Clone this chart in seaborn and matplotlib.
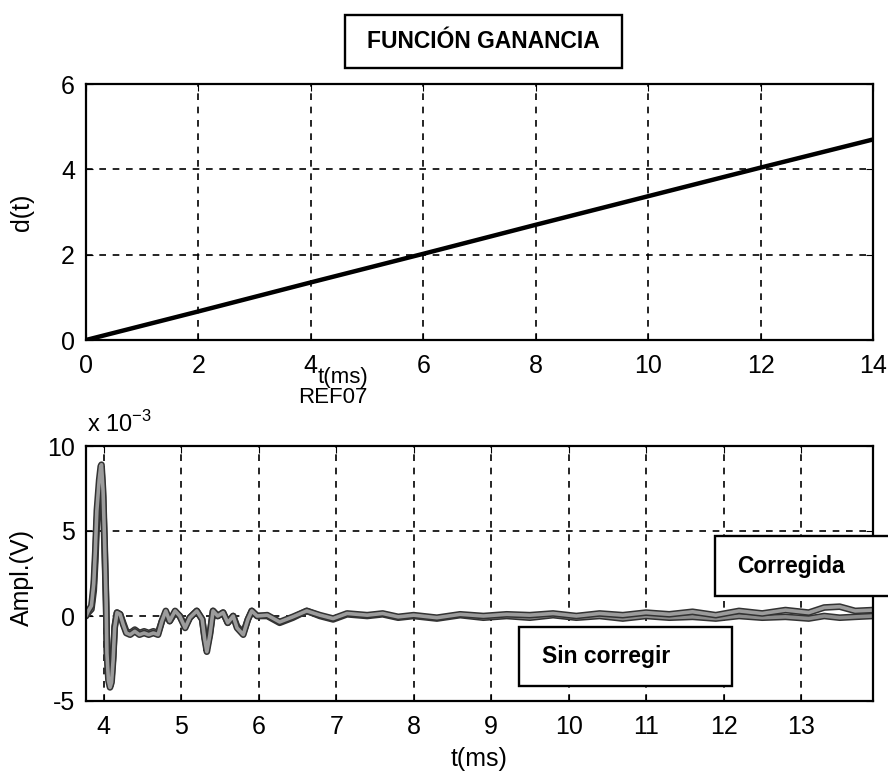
import matplotlib
matplotlib.use("Agg")
import matplotlib.pyplot as plt
import matplotlib.patheffects as pe
from matplotlib.patches import Rectangle
import seaborn as sns
import pandas as pd

# ---------------- data ----------------
t_gain = [0, 2, 4, 6, 8, 10, 12, 14]
d_gain = [0.0, 0.67, 1.35, 2.02, 2.70, 3.37, 4.04, 4.70]

t_sig = [3.77, 3.80, 3.84, 3.87, 3.89, 3.91, 3.94, 3.96, 3.97, 3.99, 4.01, 4.03,
         4.04, 4.06, 4.08, 4.10, 4.12, 4.14, 4.17, 4.21, 4.25, 4.29, 4.34, 4.40,
         4.46, 4.52, 4.58, 4.64, 4.70, 4.75, 4.80, 4.85, 4.92, 4.98, 5.05, 5.11,
         5.20, 5.27, 5.30, 5.33, 5.37, 5.41, 5.47, 5.54, 5.60, 5.67, 5.72, 5.80,
         5.86, 5.91, 5.98, 6.11, 6.27, 6.44, 6.62, 6.79, 6.96, 7.14, 7.40, 7.60,
         7.80, 8.00, 8.30, 8.60, 8.90, 9.20, 9.50, 9.80, 10.10, 10.40, 10.70,
         11.00, 11.30, 11.60, 11.90, 12.20, 12.50, 12.80, 13.10, 13.30, 13.50,
         13.70, 13.93]
sin_corregir = [0.0, 0.2, 0.4, 1.5, 3.2, 5.5, 7.4, 8.4, 8.6, 7.0, 4.0, 0.5,
                -2.0, -3.5, -3.9, -3.6, -2.4, -0.6, 0.2, 0.1, -0.4, -0.9, -1.0, -0.8,
                -1.0, -0.9, -1.0, -0.9, -1.0, -0.3, 0.2, -0.3, 0.2, 0.0, -0.6, -0.1,
                0.3, -0.2, -1.2, -1.9, -1.0, 0.3, 0.0, 0.2, -0.4, 0.0, -0.6, -1.0,
                -0.2, 0.3, 0.0, 0.0, -0.4, -0.1, 0.3, 0.0, -0.2, 0.1, 0.0, 0.1,
                -0.1, 0.0, -0.15, 0.05, -0.1, 0.0, -0.1, 0.05, -0.1, 0.0, -0.15,
                0.0, -0.1, -0.05, -0.15, 0.0, -0.1, -0.05, -0.15, 0.0, -0.1,
                -0.05, 0.0]
corregida = [0.0, 0.3, 0.6, 1.9, 3.8, 6.2, 8.0, 8.8, 8.9, 7.4, 4.4, 0.8,
             -2.2, -3.8, -4.2, -3.9, -2.6, -0.7, 0.2, 0.1, -0.5, -1.0, -1.1, -0.9,
             -1.1, -1.0, -1.1, -1.0, -1.1, -0.3, 0.3, -0.3, 0.3, 0.0, -0.7, -0.1,
             0.3, -0.2, -1.3, -2.1, -1.1, 0.3, 0.0, 0.2, -0.4, 0.0, -0.7, -1.1,
             -0.2, 0.3, 0.0, 0.05, -0.35, -0.05, 0.3, 0.05, -0.15, 0.15, 0.05, 0.15,
             -0.05, 0.05, -0.1, 0.1, 0.0, 0.1, 0.05, 0.15, 0.0, 0.15, 0.05,
             0.2, 0.1, 0.25, 0.05, 0.3, 0.15, 0.35, 0.2, 0.5, 0.55,
             0.3, 0.35]

# ---------------- style ----------------
sns.set_style("ticks")
FONT = ["Liberation Sans Narrow", "Liberation Sans", "DejaVu Sans"]
plt.rcParams["font.family"] = FONT
plt.rcParams["axes.edgecolor"] = "black"
plt.rcParams["axes.linewidth"] = 1.6
plt.rcParams["axes.unicode_minus"] = False
plt.rcParams["text.color"] = "black"
plt.rcParams["axes.labelcolor"] = "black"

W, H = 888, 778
fig = plt.figure(figsize=(W / 100, H / 100), dpi=100)
fig.patch.set_facecolor("white")


def fx(x):
    return x / W


def fy(y):
    return 1 - y / H


ax1 = fig.add_axes([fx(86), fy(340), 787 / W, 256 / H])
ax2 = fig.add_axes([fx(86), fy(701), 787 / W, 255 / H])

GRID = dict(color="black", linestyle=(0, (4, 4)), linewidth=1.2)
TICKFS = 18

# ---- top: gain function ----
df_gain = pd.DataFrame({"t": t_gain, "d": d_gain})
sns.lineplot(data=df_gain, x="t", y="d", ax=ax1, color="black", linewidth=3.2)
ax1.set_xlim(0, 14)
ax1.set_ylim(0, 6)
ax1.set_xticks(range(0, 15, 2))
ax1.set_yticks([0, 2, 4, 6])
ax1.grid(True, **GRID)
ax1.set_xlabel("")
ax1.set_ylabel("d(t)", fontsize=TICKFS)
ax1.tick_params(direction="in", length=5, top=True, right=True,
                labelsize=TICKFS, pad=10, colors="black")
ax1.tick_params(axis="y", pad=8)
for s in ax1.spines.values():
    s.set_visible(True)
    s.set_color("black")

# ---- bottom: signals ----
df_sig = pd.DataFrame({"t": t_sig * 2,
                       "v": sin_corregir + corregida,
                       "serie": ["Sin corregir"] * len(t_sig) + ["Corregida"] * len(t_sig)})
sns.lineplot(data=df_sig, x="t", y="v", hue="serie", ax=ax2, sort=False,
             estimator=None, palette=["#8c8c8c", "#9c9c9c"], linewidth=2.6,
             legend=False)
for ln in ax2.lines:
    ln.set_path_effects([pe.Stroke(linewidth=4.8, foreground="#333333"), pe.Normal()])
ax2.set_xlim(3.77, 13.93)
ax2.set_ylim(-5, 10)
ax2.set_xticks(range(4, 14))
ax2.set_yticks([-5, 0, 5, 10])
ax2.grid(True, **GRID)
ax2.set_xlabel("t(ms)", fontsize=TICKFS, labelpad=6)
ax2.set_ylabel("Ampl.(V)", fontsize=TICKFS)
ax2.tick_params(direction="in", length=5, top=True, right=True,
                labelsize=TICKFS, pad=10, colors="black")
ax2.tick_params(axis="y", pad=8)
for s in ax2.spines.values():
    s.set_visible(True)
    s.set_color("black")

# y labels: right edge of the rotated text at ~33 px from the left
ax1.yaxis.set_label_coords(-(86 - 34) / 787, 0.5)
ax2.yaxis.set_label_coords(-(86 - 34) / 787, (701 - 577) / 255)

# loose texts (t(ms) of the top axes and title of the bottom one, as in the reference)
fig.text(fx(343), fy(377), "t(ms)", fontsize=16, ha="center", va="center")
fig.text(fx(333), fy(398), "REF07", fontsize=16, ha="center", va="center")
fig.text(fx(87), fy(424), r"x 10$^{\mathregular{-3}}$", fontsize=TICKFS - 1,
         ha="left", va="center")

# boxes
BOLD = ["Liberation Sans", "DejaVu Sans"]


def box(x0, y0, x1, y1, text, tx, ty, ha="left"):
    fig.add_artist(Rectangle((fx(x0), fy(y1)), fx(x1) - fx(x0), fy(y0) - fy(y1),
                             transform=fig.transFigure, facecolor="white",
                             edgecolor="black", linewidth=1.7, zorder=5))
    fig.text(fx(tx), fy(ty), text, fontsize=16.5, fontweight="bold", family=BOLD,
             ha=ha, va="center", zorder=6, color="black")


box(345, 15, 622, 68, "FUNCIÓN GANANCIA", 483, 41, ha="center")
box(715, 536, 895, 596, "Corregida", 737, 567)
box(519, 627, 732, 686, "Sin corregir", 542, 656)

fig.savefig("out.png", dpi=100, facecolor="white")
